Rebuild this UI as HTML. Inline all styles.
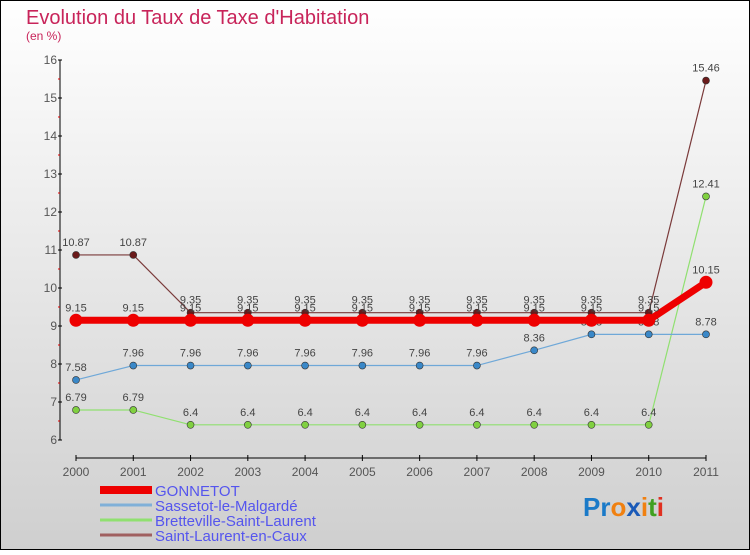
<!DOCTYPE html>
<html><head><meta charset="utf-8"><style>
body{margin:0;width:750px;height:550px;overflow:hidden;font-family:"Liberation Sans",sans-serif}
</style></head><body>
<svg id="c" width="750" height="550" xmlns="http://www.w3.org/2000/svg">
<defs><linearGradient id="bg" x1="0" y1="0" x2="0" y2="1"><stop offset="0" stop-color="#ffffff"/><stop offset="1" stop-color="#cfcfcf"/></linearGradient></defs>
<rect x="0.5" y="0.5" width="749" height="549" fill="url(#bg)" stroke="#000"/>
<text x="26" y="24" font-size="20" fill="#c8245a">Evolution du Taux de Taxe d'Habitation</text>
<text x="26" y="40" font-size="12" fill="#c8245a">(en %)</text>
<g id="axes"></g><g id="series"></g><g id="legend"></g>
<text x="583" y="516" font-size="26" font-weight="bold"><tspan fill="#1a7ac8">Pr</tspan><tspan fill="#f08010">o</tspan><tspan fill="#1a5ab8">x</tspan><tspan fill="#f08010">i</tspan><tspan fill="#40a020">t</tspan><tspan fill="#e03020">i</tspan></text>
</svg>
<script>
const years=[2000,2001,2002,2003,2004,2005,2006,2007,2008,2009,2010,2011];
const yTicks=[6,7,8,9,10,11,12,13,14,15,16];
const gonnetot=[9.15,9.15,9.15,9.15,9.15,9.15,9.15,9.15,9.15,9.15,9.15,10.15];
const sassetot=[7.58,7.96,7.96,7.96,7.96,7.96,7.96,7.96,8.36,8.78,8.78,8.78];
const bretteville=[6.79,6.79,6.4,6.4,6.4,6.4,6.4,6.4,6.4,6.4,6.4,12.41];
const saintLaurent=[10.87,10.87,9.35,9.35,9.35,9.35,9.35,9.35,9.35,9.35,9.35,15.46];
const seriesNames=["GONNETOT","Sassetot-le-Malgardé","Bretteville-Saint-Laurent","Saint-Laurent-en-Caux"];
const NS="http://www.w3.org/2000/svg";
const X=i=>76+i*(630/11), Y=v=>440-(v-6)*38;
function mk(p,t,a){const e=document.createElementNS(NS,t);for(const k in a)e.setAttribute(k,a[k]);p.appendChild(e);return e;}
const ax=document.getElementById('axes');
let e=mk(ax,'line',{x1:60,y1:60,x2:60,y2:440,stroke:'#000'});

e=mk(ax,'line',{x1:76,y1:458,x2:706,y2:458,stroke:'#000'});

yTicks.forEach((v,i)=>{mk(ax,'line',{x1:58,y1:Y(v),x2:62,y2:Y(v),stroke:'#000'});
 if(i<yTicks.length-1)mk(ax,'line',{x1:58,y1:Y(v+0.5),x2:60,y2:Y(v+0.5),stroke:'#d00'});
 const t=mk(ax,'text',{x:57,y:Y(v)+4,'font-size':12,fill:'#555','text-anchor':'end'});t.textContent=v;
 });
years.forEach((y,i)=>{mk(ax,'line',{x1:X(i),y1:455,x2:X(i),y2:461,stroke:'#000'});
 const t=mk(ax,'text',{x:X(i),y:476,'font-size':12,fill:'#555','text-anchor':'middle'});t.textContent=y;
 });
const sg=document.getElementById('series');
function draw(vals,color,dot,w,r,name,lbl){
 const g=mk(sg,'g',{});
 mk(g,'polyline',{points:vals.map((v,i)=>X(i)+','+Y(v)).join(' '),fill:'none',stroke:color,'stroke-width':w});
 vals.forEach((v,i)=>{const c=mk(g,'circle',{cx:X(i),cy:Y(v),r:r,fill:dot,stroke:'#333','stroke-width':r>5?0:0.6});
  
  const t=mk(g,'text',{x:X(i),y:Y(v)-9,'font-size':11,fill:'#444','text-anchor':'middle'});t.textContent=v;
  });
}
draw(saintLaurent,'#7a3a3a','#6a1a1a',1.2,3.5,'series-saint-laurent');
draw(bretteville,'#90e070','#80d040',1.2,3.5,'series-bretteville');
draw(sassetot,'#6fa8d8','#3a88c8',1.2,3.5,'series-sassetot');
draw(gonnetot,'#ee0000','#ee0000',7,6.5,'series-gonnetot');
const lg=document.getElementById('legend');
const lc=['#ee0000','#80b0d8','#90e070','#a06060'],lw=[8,3,3,3];
seriesNames.forEach((n,i)=>{const y=520+i*14-30+0;
 const g=mk(lg,'g',{});
 mk(g,'line',{x1:100,y1:490+i*15,x2:152,y2:490+i*15,stroke:lc[i],'stroke-width':lw[i]});
 const t=mk(g,'text',{x:155,y:496+i*15,'font-size':15,fill:'#5555ee'});t.textContent=n;});
</script>
</body></html>
